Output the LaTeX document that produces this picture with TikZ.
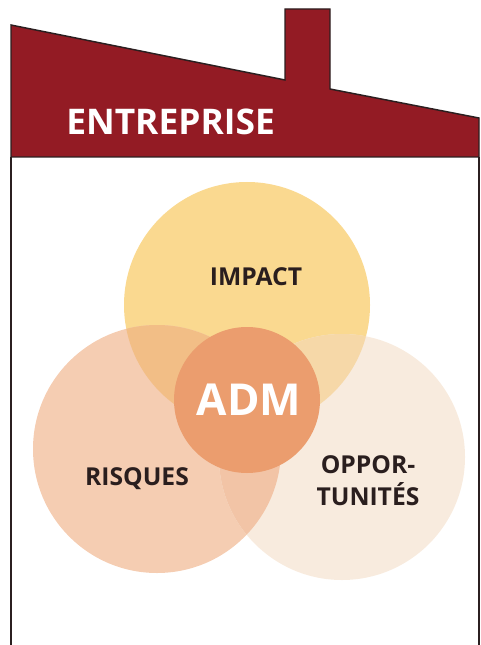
\documentclass[tikz,border=0pt]{standalone}
\usepackage{fontspec}
\setmainfont{Open Sans}
\definecolor{roofred}{HTML}{931B24}
\definecolor{edge}{HTML}{2B1F20}
\definecolor{cyellow}{HTML}{FAD990}
\definecolor{cpink}{HTML}{F5CDB2}
\definecolor{ccream}{HTML}{F8EBDE}
\definecolor{cyp}{HTML}{F2BE86}
\definecolor{cyc}{HTML}{F6D8A8}
\definecolor{cpc}{HTML}{F2C4A6}
\definecolor{cadm}{HTML}{EB9D6E}
\definecolor{txt}{HTML}{2A1E1E}
\begin{document}
\begin{tikzpicture}[x=0.75pt,y=-0.75pt,
  outline/.style={draw=edge,line width=1.1pt},
  lbl/.style={font=\bfseries\fontsize{18.5}{22}\selectfont,text=txt,align=center,inner sep=0pt},
  blob/.style={circle,inner sep=0pt,draw=none}]
\useasboundingbox (0,0) rectangle (480,645);
% house walls
\coordinate (wl) at (11,645);
\coordinate (wr) at (479,645);
\coordinate (rl) at (11,157);
\coordinate (rr) at (479,157);
\draw[outline] (rl) -- (wl);
\draw[outline] (rr) -- (wr);
% roof
\filldraw[fill=roofred,outline,line join=miter] (11,25) -- (285,80) -- (285,9) -- (330,9) -- (330,89) -- (479,118) -- (rr) -- (rl) -- cycle;
\node[font=\bfseries\fontsize{26.5}{31}\selectfont,text=white,anchor=base west,inner sep=0pt] (ent) at (66,135) {ENTREPRISE};
% circles
\node[blob,fill=cyellow,minimum size=184.5pt] (impact) at (247,305) {};
\node[blob,fill=cpink,minimum size=186pt] (risques) at (157,449) {};
\node[blob,fill=ccream,minimum size=184.5pt] (opp) at (342,457) {};
\begin{scope}
  \clip (247,305) circle[radius=123];
  \fill[cyp] (157,449) circle[radius=124];
  \fill[cyc] (342,457) circle[radius=123];
\end{scope}
\begin{scope}
  \clip (157,449) circle[radius=124];
  \fill[cpc] (342,457) circle[radius=123];
\end{scope}
\node[blob,fill=cadm,minimum size=109.5pt] (adm) at (247,400) {};
\node[text=white,font=\bfseries\fontsize{33}{38}\selectfont,inner sep=0pt] (ladm) at (249,400) {ADM};
% labels
\node[lbl] (limpact) at (256,277) {IMPACT};
\node[lbl] (lrisques) at (137,479) {RISQUES};
\node[lbl,align=center] (lopp) at (368,481) {OPPOR-\\[2pt]TUNITÉS};
\end{tikzpicture}
\end{document}
